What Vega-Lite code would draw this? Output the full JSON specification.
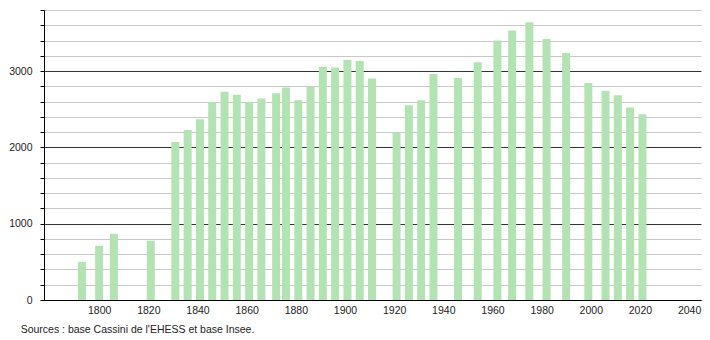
{
  "$schema": "https://vega.github.io/schema/vega-lite/v6.json",
  "width": 657,
  "height": 290,
  "autosize": "none",
  "padding": {"left": 44, "top": 10, "right": 9, "bottom": 40},
  "background": "white",
  "title": {
    "text": "Sources : base Cassini de l'EHESS et base Insee.",
    "orient": "bottom",
    "anchor": "start",
    "dx": 12,
    "offset": 9,
    "font": "Liberation Sans",
    "fontSize": 10.5,
    "fontWeight": "normal",
    "color": "#222"
  },
  "data": {
    "values": [
      {"year": 1793, "pop": 500},
      {"year": 1800, "pop": 710},
      {"year": 1806, "pop": 868},
      {"year": 1821, "pop": 776},
      {"year": 1831, "pop": 2070},
      {"year": 1836, "pop": 2228},
      {"year": 1841, "pop": 2368},
      {"year": 1846, "pop": 2596},
      {"year": 1851, "pop": 2728},
      {"year": 1856, "pop": 2688},
      {"year": 1861, "pop": 2596},
      {"year": 1866, "pop": 2640},
      {"year": 1872, "pop": 2710},
      {"year": 1876, "pop": 2785},
      {"year": 1881, "pop": 2618},
      {"year": 1886, "pop": 2794},
      {"year": 1891, "pop": 3057},
      {"year": 1896, "pop": 3048},
      {"year": 1901, "pop": 3145},
      {"year": 1906, "pop": 3132},
      {"year": 1911, "pop": 2904},
      {"year": 1921, "pop": 2193},
      {"year": 1926, "pop": 2553},
      {"year": 1931, "pop": 2618},
      {"year": 1936, "pop": 2960},
      {"year": 1946, "pop": 2908},
      {"year": 1954, "pop": 3114},
      {"year": 1962, "pop": 3399},
      {"year": 1968, "pop": 3530},
      {"year": 1975, "pop": 3640},
      {"year": 1982, "pop": 3421},
      {"year": 1990, "pop": 3237},
      {"year": 1999, "pop": 2842},
      {"year": 2006, "pop": 2741},
      {"year": 2011, "pop": 2684},
      {"year": 2016, "pop": 2522},
      {"year": 2021, "pop": 2434}
    ]
  },
  "mark": {"type": "bar", "size": 8, "color": "#b3e3b3"},
  "encoding": {
    "x": {
      "field": "year",
      "type": "quantitative",
      "scale": {"domain": [1779.6, 2042.8], "nice": false, "zero": false},
      "axis": {
        "title": null,
        "values": [1800, 1820, 1840, 1860, 1880, 1900, 1920, 1940, 1960, 1980, 2000, 2020, 2040],
        "format": "d",
        "grid": false,
        "ticks": false,
        "domainColor": "#000",
        "labelPadding": 5,
        "labelFont": "Liberation Sans",
        "labelFontSize": 10.5,
        "labelColor": "#222",
        "labelFlush": false,
        "labelOverlap": false
      }
    },
    "y": {
      "field": "pop",
      "type": "quantitative",
      "scale": {"domain": [0, 3800], "nice": false},
      "axis": {
        "title": null,
        "values": [0, 200, 400, 600, 800, 1000, 1200, 1400, 1600, 1800, 2000, 2200, 2400, 2600, 2800, 3000, 3200, 3400, 3600, 3800],
        "labelExpr": "datum.value % 1000 === 0 ? datum.value : ''",
        "grid": true,
        "gridColor": {"condition": {"test": "datum.value % 1000 === 0", "value": "#333"}, "value": "#c8c8c8"},
        "gridWidth": 1,
        "ticks": true,
        "tickSize": 4,
        "tickColor": "#000",
        "domainColor": "#000",
        "labelPadding": 8,
        "labelFont": "Liberation Sans",
        "labelFontSize": 10.5,
        "labelColor": "#222",
        "labelFlush": false,
        "labelOverlap": false
      }
    }
  },
  "config": {"view": {"stroke": null}}
}
